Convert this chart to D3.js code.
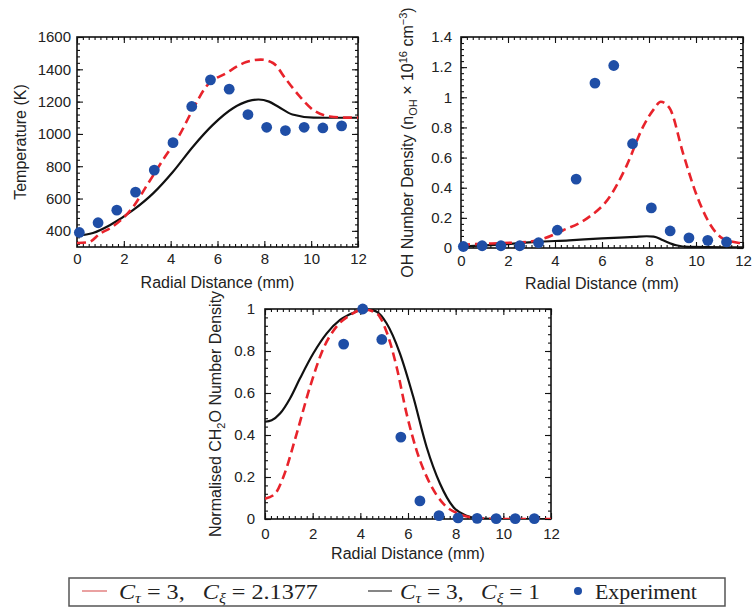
<!DOCTYPE html>
<html>
<head>
<meta charset="utf-8">
<script src="https://cdn.jsdelivr.net/npm/d3@7"></script>
<style>
  html, body { margin: 0; padding: 0; background: #ffffff; }
  svg { display: block; }
  .tick text { font-family: "Liberation Sans", Arial, sans-serif; font-size: 15px; fill: #222; }
</style>
</head>
<body>
<svg id="fig" width="753" height="615"></svg>
<script>
// ---------------- data ----------------
// radial positions of the measurements (mm)
const radialExp = [0.1, 0.9, 1.7, 2.5, 3.3, 4.1, 4.9, 5.7, 6.5, 7.3, 8.1, 8.9, 9.7, 10.5, 11.3];

// temperature (K)
const tempExp = [390, 450, 528, 640, 776, 946, 1170, 1335, 1277, 1120, 1041, 1021, 1041, 1037, 1050];
const tempXi2X = [0, 0.5, 1.0, 1.4, 2.4, 3.0, 3.67, 4.38, 4.95, 5.52, 6.38, 7.23, 7.85, 8.37, 8.94, 9.51, 10.08, 10.79, 11.5, 12];
const tempXi2Y = [325, 330, 385, 415, 549, 685, 839, 994, 1153, 1294, 1377, 1445, 1460, 1439, 1335, 1232, 1149, 1108, 1101, 1101];
const tempXi1X = [0, 0.68, 1.4, 2.39, 3.25, 4.1, 4.95, 5.8, 6.66, 7.3, 7.75, 8.2, 8.6, 9.2, 10.1, 10.9, 12];
const tempXi1Y = [370, 387, 435, 528, 632, 766, 921, 1056, 1159, 1203, 1213, 1200, 1168, 1120, 1101, 1100, 1100];

// OH number density (1e16 cm^-3)
const ohExp = [0.01, 0.015, 0.015, 0.015, 0.035, 0.118, 0.457, 1.094, 1.211, 0.692, 0.266, 0.113, 0.067, 0.051, 0.04];
const ohXi2X = [0, 0.38, 1.8, 2.8, 3.5, 4.35, 5.35, 6.33, 7.03, 7.75, 8.2, 8.5, 8.88, 9.45, 10.0, 10.58, 11.15, 11.86, 12];
const ohXi2Y = [0.02, 0.024, 0.033, 0.04, 0.062, 0.118, 0.195, 0.34, 0.54, 0.805, 0.92, 0.97, 0.927, 0.628, 0.362, 0.162, 0.062, 0.033, 0.03];
const ohXi1X = [0, 1.8, 3.2, 4.6, 6.0, 7.4, 7.9, 8.2, 8.6, 9.16, 9.7, 12];
const ohXi1Y = [0.01, 0.024, 0.04, 0.051, 0.064, 0.074, 0.078, 0.076, 0.051, 0.018, 0.007, 0.004];

// normalised CH2O number density
const ch2oExpX = [3.3, 4.1, 4.9, 5.7, 6.5, 7.3, 8.1, 8.9, 9.7, 10.5, 11.3];
const ch2oExp = [0.833, 1.0, 0.855, 0.39, 0.086, 0.016, 0.005, 0.003, 0.002, 0.002, 0.002];
const ch2oXi2X = [0, 0.42, 0.77, 1.33, 1.89, 2.45, 3.0, 3.57, 4.13, 4.69, 5.1, 5.52, 5.94, 6.36, 6.92, 7.48, 8.18, 8.88, 9.86, 12];
const ch2oXi2Y = [0.097, 0.12, 0.2, 0.407, 0.63, 0.812, 0.916, 0.971, 0.998, 0.979, 0.892, 0.725, 0.502, 0.327, 0.169, 0.073, 0.022, 0.005, 0, 0];
const ch2oXi1X = [0, 0.28, 0.63, 1.05, 1.47, 2.03, 2.59, 3.15, 3.71, 4.27, 4.69, 5.1, 5.66, 6.22, 6.78, 7.34, 7.9, 8.46, 9.02, 10, 12];
const ch2oXi1Y = [0.463, 0.47, 0.502, 0.574, 0.67, 0.789, 0.884, 0.948, 0.982, 1.0, 0.987, 0.932, 0.789, 0.582, 0.343, 0.169, 0.057, 0.016, 0.002, 0, 0];

// axis ticks
const xTicks = [0, 2, 4, 6, 8, 10, 12];
const tempTicks = [400, 600, 800, 1000, 1200, 1400, 1600];
const ohTicks = [0, 0.2, 0.4, 0.6, 0.8, 1, 1.2, 1.4];
const ch2oTicks = [0, 0.2, 0.4, 0.6, 0.8, 1];

// legend entries
const legendXiValues = ["2.1377", "1"];
const legendExperiment = "Experiment";

// ---------------- styling ----------------
const RED = "#e8232b", BLACK = "#111111", BLUE = "#1f4ea6";
const svg = d3.select("#fig");
const zip = (xs, ys) => xs.map((x, i) => [x, ys[i]]);

function panel(cfg) {
  const { left, right, top, bottom, yDomain, yTicks, yMinorStep, ylabel, yPad, xlabelY, ylabelX, id } = cfg;
  const x = d3.scaleLinear().domain([0, 12]).range([left, right]);
  const y = d3.scaleLinear().domain(yDomain).range([bottom, top]);
  const g = svg.append("g");

  g.append("clipPath").attr("id", id).append("rect")
    .attr("x", left).attr("y", top).attr("width", right - left).attr("height", bottom - top);

  const xMinor = d3.range(0, 12.0001, 0.25);
  const yMinor = d3.range(Math.ceil(yDomain[0] / yMinorStep) * yMinorStep, yDomain[1] + yMinorStep * 1e-3, yMinorStep);

  const strip = sel => { sel.select(".domain").remove(); sel.selectAll(".tick line").attr("stroke", "#111").attr("stroke-width", 1.1); };

  // bottom / top
  g.append("g").attr("transform", `translate(0,${bottom})`)
    .call(d3.axisBottom(x).tickValues(xMinor).tickSize(-3).tickFormat("")).call(strip);
  g.append("g").attr("transform", `translate(0,${bottom})`)
    .call(d3.axisBottom(x).tickValues(xTicks).tickSize(-6).tickPadding(cfg.xPad).tickFormat(d3.format("d"))).call(strip);
  g.append("g").attr("transform", `translate(0,${top})`)
    .call(d3.axisTop(x).tickValues(xMinor).tickSize(-3).tickFormat("")).call(strip);
  g.append("g").attr("transform", `translate(0,${top})`)
    .call(d3.axisTop(x).tickValues(xTicks).tickSize(-6).tickFormat("")).call(strip);
  // left / right
  g.append("g").attr("transform", `translate(${left},0)`)
    .call(d3.axisLeft(y).tickValues(yMinor).tickSize(-3).tickFormat("")).call(strip);
  g.append("g").attr("transform", `translate(${left},0)`)
    .call(d3.axisLeft(y).tickValues(yTicks).tickSize(-6).tickPadding(yPad).tickFormat(d => String(d))).call(strip);
  g.append("g").attr("transform", `translate(${right},0)`)
    .call(d3.axisRight(y).tickValues(yMinor).tickSize(-3).tickFormat("")).call(strip);
  g.append("g").attr("transform", `translate(${right},0)`)
    .call(d3.axisRight(y).tickValues(yTicks).tickSize(-6).tickFormat("")).call(strip);

  // frame
  g.append("rect").attr("x", left).attr("y", top).attr("width", right - left).attr("height", bottom - top)
    .attr("fill", "none").attr("stroke", "#111").attr("stroke-width", 1.6);

  const line = d3.line().x(d => x(d[0])).y(d => y(d[1])).curve(d3.curveMonotoneX);
  const curves = g.append("g").attr("clip-path", `url(#${id})`);
  curves.append("path").datum(cfg.solid).attr("d", line)
    .attr("fill", "none").attr("stroke", BLACK).attr("stroke-width", 2.2);
  curves.append("path").datum(cfg.dashed).attr("d", line)
    .attr("fill", "none").attr("stroke", RED).attr("stroke-width", 2.6).attr("stroke-dasharray", "9,5");

  g.append("g").selectAll("circle").data(cfg.points).join("circle")
    .attr("cx", d => x(d[0])).attr("cy", d => y(d[1])).attr("r", 5.4).attr("fill", BLUE);

  // axis labels
  g.append("text").attr("x", (left + right) / 2).attr("y", xlabelY).attr("text-anchor", "middle")
    .attr("font-family", "Liberation Sans, Arial, sans-serif").attr("font-size", 16).attr("fill", "#222")
    .text("Radial Distance (mm)");
  const yl = g.append("text").attr("transform", `translate(${ylabelX},${(top + bottom) / 2}) rotate(-90)`)
    .attr("text-anchor", "middle").attr("font-family", "Liberation Sans, Arial, sans-serif")
    .attr("font-size", 16).attr("fill", "#222");
  ylabel(yl);
}

panel({
  id: "clipT", left: 77, right: 358, top: 37, bottom: 247,
  yDomain: [300, 1600], yTicks: tempTicks, yMinorStep: 40, yPad: 6, xPad: 6,
  xlabelY: 288, ylabelX: 26,
  ylabel: t => t.text("Temperature (K)"),
  solid: zip(tempXi1X, tempXi1Y), dashed: zip(tempXi2X, tempXi2Y), points: zip(radialExp, tempExp)
});

panel({
  id: "clipOH", left: 461, right: 743, top: 37, bottom: 248,
  yDomain: [0, 1.4], yTicks: ohTicks, yMinorStep: 0.04, yPad: 9, xPad: 7,
  xlabelY: 289, ylabelX: 413,
  ylabel: t => {
    t.append("tspan").text("OH Number Density (n");
    t.append("tspan").attr("font-size", 11).attr("dy", 4).text("OH");
    t.append("tspan").attr("dy", -4).text(" \u00d7 10");
    t.append("tspan").attr("font-size", 11).attr("dy", -6).text("16");
    t.append("tspan").attr("dy", 6).text(" cm");
    t.append("tspan").attr("font-size", 11).attr("dy", -6).text("\u22123");
    t.append("tspan").attr("dy", 6).text(")");
  },
  solid: zip(ohXi1X, ohXi1Y), dashed: zip(ohXi2X, ohXi2Y), points: zip(radialExp, ohExp)
});

panel({
  id: "clipCH", left: 265, right: 551, top: 309, bottom: 519,
  yDomain: [0, 1], yTicks: ch2oTicks, yMinorStep: 0.04, yPad: 10, xPad: 9,
  xlabelY: 559, ylabelX: 221,
  ylabel: t => {
    t.append("tspan").text("Normalised CH");
    t.append("tspan").attr("font-size", 11).attr("dy", 4).text("2");
    t.append("tspan").attr("dy", -4).text("O Number Density");
  },
  solid: zip(ch2oXi1X, ch2oXi1Y), dashed: zip(ch2oXi2X, ch2oXi2Y), points: zip(ch2oExpX, ch2oExp)
});

// ---------------- legend ----------------
const leg = svg.append("g");
leg.append("rect").attr("x", 69).attr("y", 578).attr("width", 656).attr("height", 28)
  .attr("fill", "#fff").attr("stroke", "#555").attr("stroke-width", 1.5);

const serif = "Liberation Serif, Times New Roman, serif";
// stretch a text element horizontally so it spans [x0, x1]
function fitWidth(t, x0, x1) {
  const w = t.node().getComputedTextLength();
  const s = (x1 - x0) / w;
  t.attr("transform", `translate(${x0},0) scale(${s},1) translate(${-x0},0)`);
}
function mathLabel(x0, x1, xiValue) {
  const t = leg.append("text").attr("x", x0).attr("y", 599)
    .attr("font-family", serif).attr("font-size", 21).attr("fill", "#222")
    .attr("xml:space", "preserve");
  t.append("tspan").attr("font-style", "italic").text("C");
  t.append("tspan").attr("font-style", "italic").attr("font-size", 14).attr("dy", 4).text("\u03c4");
  t.append("tspan").attr("dy", -4).text(" = 3,   ");
  t.append("tspan").attr("font-style", "italic").text("C");
  t.append("tspan").attr("font-style", "italic").attr("font-size", 14).attr("dy", 4).text("\u03be");
  t.append("tspan").attr("dy", -4).text(" = " + xiValue);
  fitWidth(t, x0, x1);
}
leg.append("line").attr("x1", 82).attr("x2", 107).attr("y1", 591).attr("y2", 591)
  .attr("stroke", "#e58a8a").attr("stroke-width", 1.6);
mathLabel(119, 318, legendXiValues[0]);
leg.append("line").attr("x1", 368).attr("x2", 392).attr("y1", 591).attr("y2", 591)
  .attr("stroke", "#444").attr("stroke-width", 1.3);
mathLabel(400, 540, legendXiValues[1]);
leg.append("circle").attr("cx", 578).attr("cy", 591).attr("r", 4).attr("fill", BLUE);
const expText = leg.append("text").attr("x", 595).attr("y", 599).attr("font-family", serif).attr("font-size", 21)
  .attr("fill", "#222").text(legendExperiment);
fitWidth(expText, 595, 697);
</script>
</body>
</html>
